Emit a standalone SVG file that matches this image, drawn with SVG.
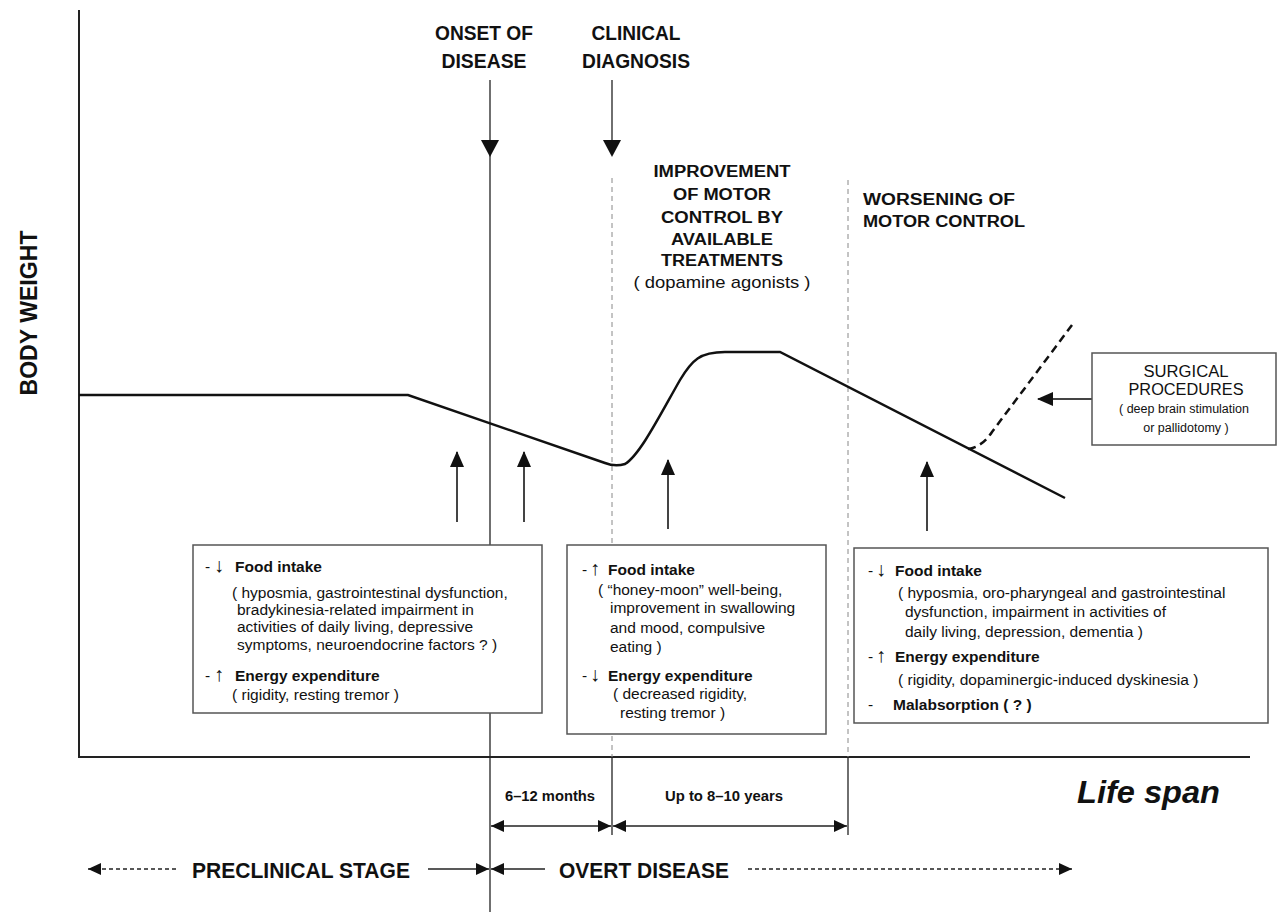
<svg xmlns="http://www.w3.org/2000/svg" width="1278" height="912" viewBox="0 0 1278 912">
<style>
text{font-family:"Liberation Sans",Arial,sans-serif;fill:#111}
.b{font-weight:bold}
.lbl{font-weight:bold;font-size:21px;text-anchor:middle}
.sub{font-weight:bold;font-size:16px;text-anchor:middle}
.t{font-size:15.5px}
.tb{font-size:15.5px;font-weight:bold}
.ar{font-size:20px}
.box{fill:#fff;stroke:#555;stroke-width:1.5}
.ax{stroke:#222;stroke-width:2;fill:none}
.thin{stroke:#222;stroke-width:1.3;fill:none}
.dash{stroke:#888;stroke-width:1;stroke-dasharray:5,4;fill:none}
.up{stroke:#444;stroke-width:2;fill:none}
</style>
<defs>
<marker id="ah" markerUnits="userSpaceOnUse" markerWidth="16" markerHeight="16" viewBox="0 0 16 16" refX="15" refY="8" orient="auto">
<path d="M0,1 L16,8 L0,15 Z" fill="#111"/>
</marker>
<marker id="ahs" markerUnits="userSpaceOnUse" markerWidth="13" markerHeight="12" viewBox="0 0 13 12" refX="13" refY="6" orient="auto">
<path d="M0,0 L13,6 L0,12 Z" fill="#111"/>
</marker>
<marker id="ahss" markerUnits="userSpaceOnUse" markerWidth="13" markerHeight="12" viewBox="0 0 13 12" refX="0" refY="6" orient="auto">
<path d="M13,0 L0,6 L13,12 Z" fill="#111"/>
</marker>
</defs>

<g id="connectors">
<line class="ax" x1="79" y1="10" x2="79" y2="757"/>
<line class="ax" x1="78" y1="757" x2="1250" y2="757"/>
<line class="thin" x1="490" y1="80" x2="490" y2="912"/>
<path d="M481,140 L499,140 L490,157 Z" fill="#111"/>
<line class="thin" x1="612" y1="80" x2="612" y2="145"/>
<path d="M603,140 L621,140 L612,157 Z" fill="#111"/>
<line class="dash" x1="612" y1="178" x2="612" y2="757"/>
<line class="dash" x1="848" y1="180" x2="848" y2="757"/>
<path d="M79,395 L408,395 L605,463 Q615,467 625,464 C640,455 660,415 680,380 C692,360 700,352 725,352 L780,352 L1065,498" stroke="#111" stroke-width="2.5" fill="none"/>
<path d="M968,449 Q982,447 992,432 L1072,325" stroke="#111" stroke-width="2.5" stroke-dasharray="8,5" fill="none"/>
<line class="up" x1="457" y1="522" x2="457" y2="452" marker-end="url(#ah)"/>
<line class="up" x1="524" y1="522" x2="524" y2="452" marker-end="url(#ah)"/>
<line class="up" x1="668" y1="529" x2="668" y2="460" marker-end="url(#ah)"/>
<line class="up" x1="927" y1="531" x2="927" y2="462" marker-end="url(#ah)"/>
<line class="up" x1="1092" y1="399" x2="1038" y2="399" marker-end="url(#ah)"/>
<line class="thin" x1="612" y1="757" x2="612" y2="835"/>
<line class="thin" x1="848" y1="757" x2="848" y2="835"/>
<line class="thin" x1="491" y1="826" x2="611" y2="826" marker-start="url(#ahss)" marker-end="url(#ahs)"/>
<line class="thin" x1="613" y1="826" x2="847" y2="826" marker-start="url(#ahss)" marker-end="url(#ahs)"/>
<line x1="88" y1="869" x2="178" y2="869" stroke="#222" stroke-width="1.3" stroke-dasharray="4,3" marker-start="url(#ahss)"/>
<line class="thin" x1="428" y1="869" x2="489" y2="869" marker-end="url(#ahs)"/>
<line class="thin" x1="491" y1="869" x2="545" y2="869" marker-start="url(#ahss)"/>
<line x1="748" y1="869" x2="1072" y2="869" stroke="#222" stroke-width="1.3" stroke-dasharray="4,3" marker-end="url(#ahs)"/>
</g>

<g id="axis-labels">
<text class="b" font-size="23" transform="translate(37,313) rotate(-90)" text-anchor="middle" textLength="165" lengthAdjust="spacingAndGlyphs">BODY WEIGHT</text>
<text class="b" font-size="32" font-style="italic" x="1077" y="803" textLength="143" lengthAdjust="spacingAndGlyphs">Life span</text>
</g>

<g id="onset-label">
<text class="lbl" x="484" y="40" textLength="98" lengthAdjust="spacingAndGlyphs">ONSET OF</text>
<text class="lbl" x="484" y="68" textLength="85" lengthAdjust="spacingAndGlyphs">DISEASE</text>
</g>
<g id="clinical-label">
<text class="lbl" x="636" y="40" textLength="89" lengthAdjust="spacingAndGlyphs">CLINICAL</text>
<text class="lbl" x="636" y="68" textLength="108" lengthAdjust="spacingAndGlyphs">DIAGNOSIS</text>
</g>
<g id="improvement-label">
<text class="sub" x="722" y="177" textLength="137" lengthAdjust="spacingAndGlyphs">IMPROVEMENT</text>
<text class="sub" x="722" y="200" textLength="98" lengthAdjust="spacingAndGlyphs">OF MOTOR</text>
<text class="sub" x="722" y="223" textLength="122" lengthAdjust="spacingAndGlyphs">CONTROL BY</text>
<text class="sub" x="722" y="245" textLength="102" lengthAdjust="spacingAndGlyphs">AVAILABLE</text>
<text class="sub" x="722" y="266" textLength="122" lengthAdjust="spacingAndGlyphs">TREATMENTS</text>
<text x="722" y="288" font-size="17" text-anchor="middle" textLength="177" lengthAdjust="spacingAndGlyphs">( dopamine agonists )</text>
</g>
<g id="worsening-label">
<text class="b" font-size="16" x="863" y="205" textLength="152" lengthAdjust="spacingAndGlyphs">WORSENING OF</text>
<text class="b" font-size="16" x="863" y="227" textLength="162" lengthAdjust="spacingAndGlyphs">MOTOR CONTROL</text>
</g>

<g id="surgical-box">
<rect class="box" x="1092" y="353" width="184" height="92"/>
<text x="1186" y="377" font-size="16" text-anchor="middle" textLength="85" lengthAdjust="spacingAndGlyphs">SURGICAL</text>
<text x="1186" y="395" font-size="16" text-anchor="middle" textLength="115" lengthAdjust="spacingAndGlyphs">PROCEDURES</text>
<text x="1184" y="413" font-size="12.5" text-anchor="middle">( deep brain stimulation</text>
<text x="1186" y="432" font-size="12.5" text-anchor="middle">or pallidotomy )</text>
</g>

<g id="box-preclinical">
<rect class="box" x="193" y="545" width="349" height="168"/>
<text class="t" x="205" y="572">- <tspan class="ar" x="214">↓</tspan><tspan class="tb" x="235">Food intake</tspan></text>
<text class="t" x="232" y="598">( hyposmia, gastrointestinal dysfunction,</text>
<text class="t" x="237" y="615">bradykinesia-related impairment in</text>
<text class="t" x="237" y="632">activities of daily living, depressive</text>
<text class="t" x="237" y="650">symptoms, neuroendocrine factors ? )</text>
<text class="t" x="205" y="681">- <tspan class="ar" x="214">↑</tspan><tspan class="tb" x="235">Energy expenditure</tspan></text>
<text class="t" x="232" y="700">( rigidity, resting tremor )</text>
</g>

<g id="box-improvement">
<rect class="box" x="567" y="545" width="259" height="189"/>
<text class="t" x="582" y="575">- <tspan class="ar" x="590">↑</tspan><tspan class="tb" x="608">Food intake</tspan></text>
<text class="t" x="598" y="595">( “honey-moon” well-being,</text>
<text class="t" x="610" y="613">improvement in swallowing</text>
<text class="t" x="610" y="633">and mood, compulsive</text>
<text class="t" x="610" y="652">eating )</text>
<text class="t" x="582" y="681">- <tspan class="ar" x="590">↓</tspan><tspan class="tb" x="608">Energy expenditure</tspan></text>
<text class="t" x="613" y="699">( decreased rigidity,</text>
<text class="t" x="620" y="718">resting tremor )</text>
</g>

<g id="box-worsening">
<rect class="box" x="854" y="548" width="414" height="175"/>
<text class="t" x="868" y="576">- <tspan class="ar" x="876">↓</tspan><tspan class="tb" x="895">Food intake</tspan></text>
<text class="t" x="898" y="598">( hyposmia, oro-pharyngeal and gastrointestinal</text>
<text class="t" x="905" y="617">dysfunction, impairment in activities of</text>
<text class="t" x="905" y="637">daily living, depression, dementia )</text>
<text class="t" x="868" y="662">- <tspan class="ar" x="876">↑</tspan><tspan class="tb" x="895">Energy expenditure</tspan></text>
<text class="t" x="898" y="685">( rigidity, dopaminergic-induced dyskinesia )</text>
<text class="t" x="868" y="710">- <tspan class="tb" x="893">Malabsorption ( ? )</tspan></text>
</g>

<g id="durations">
<text class="b" font-size="14" x="550" y="801" text-anchor="middle" textLength="90" lengthAdjust="spacingAndGlyphs">6–12 months</text>
<text class="b" font-size="14" x="724" y="801" text-anchor="middle" textLength="118" lengthAdjust="spacingAndGlyphs">Up to 8–10 years</text>
</g>

<g id="stages">
<text class="b" font-size="22" x="192" y="878" textLength="218" lengthAdjust="spacingAndGlyphs">PRECLINICAL STAGE</text>
<text class="b" font-size="22" x="559" y="878" textLength="170" lengthAdjust="spacingAndGlyphs">OVERT DISEASE</text>
</g>
</svg>
